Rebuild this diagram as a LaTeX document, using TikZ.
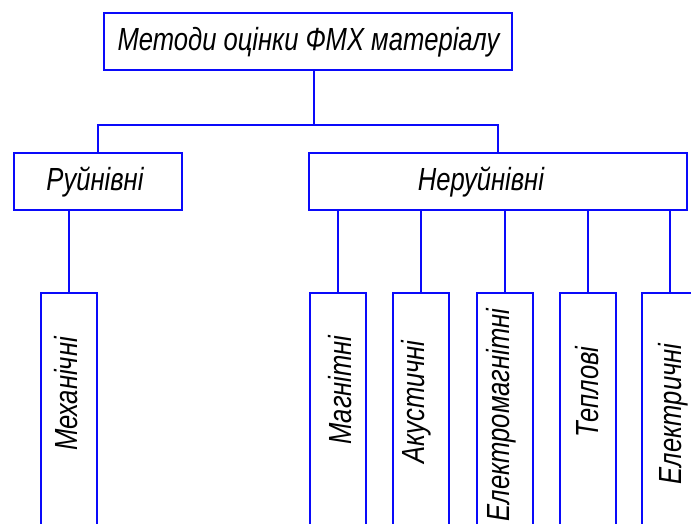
\documentclass[tikz,border=0pt]{standalone}
\usepackage{fontspec}
\newfontfamily\gost{Liberation Sans}[FakeStretch=0.8]
\definecolor{lineblue}{RGB}{10,10,250}
\begin{document}
\begin{tikzpicture}[x=1pt,y=-1pt,
  box/.style={draw=lineblue, line width=2pt, inner sep=0pt, outer sep=0pt, fill=white},
  txt/.style={font=\gost\itshape\fontsize{32}{32}\selectfont, text=black, inner sep=0pt},
  vtxt/.style={txt, rotate=90},
  link/.style={draw=lineblue, line width=2pt}]
\useasboundingbox (0,0) rectangle (691,524);
\clip (0,0) rectangle (691,524);
\fill[white] (0,0) rectangle (691,524);
% top
\node[box, minimum width=408pt, minimum height=57pt] (top) at (308,41.5) {};
\node[txt] (toptext) at (308.5,42) {Методи оцінки ФМХ матеріалу};
% level 2
\node[box, minimum width=168pt, minimum height=57pt] (ruin) at (98,181.5) {};
\node[txt] (ruintext) at (95,182) {Руйнівні};
\node[box, minimum width=378pt, minimum height=57pt] (nonruin) at (498,181.5) {};
\node[txt] (nonruintext) at (481,182) {Неруйнівні};
% level 3
\node[box, minimum width=56pt, minimum height=247pt] (mech) at (69,416.5) {};
\node[box, minimum width=56pt, minimum height=247pt] (mag) at (338,416.5) {};
\node[box, minimum width=56pt, minimum height=247pt] (aku) at (421,416.5) {};
\node[box, minimum width=56pt, minimum height=247pt] (em) at (505,416.5) {};
\node[box, minimum width=56pt, minimum height=247pt] (tep) at (588,416.5) {};
\node[box, minimum width=56pt, minimum height=247pt] (el) at (670,416.5) {};
\node[vtxt] (mechtext) at (66,394) {Механічні};
\node[vtxt] (magtext) at (340,390) {Магнітні};
\node[vtxt] (akutext) at (416,402) {Акустичні};
\node[vtxt] (emtext) at (501,415) {Електромагнітні};
\node[vtxt] (teptext) at (587,392) {Теплові};
\node[vtxt] (eltext) at (673,414) {Електричні};
% connectors
\draw[link] ([xshift=6pt]top.south) -- ++(0,55) coordinate (busmid);
\draw[link] (ruin.north) -- ++(0,-28) -| (nonruin.north);
\draw[link] (mech.north) -- (mech.north |- ruin.south);
\foreach \c in {mag,aku,em,tep,el}
  \draw[link] (\c.north) -- (\c.north |- nonruin.south);
\end{tikzpicture}
\end{document}
